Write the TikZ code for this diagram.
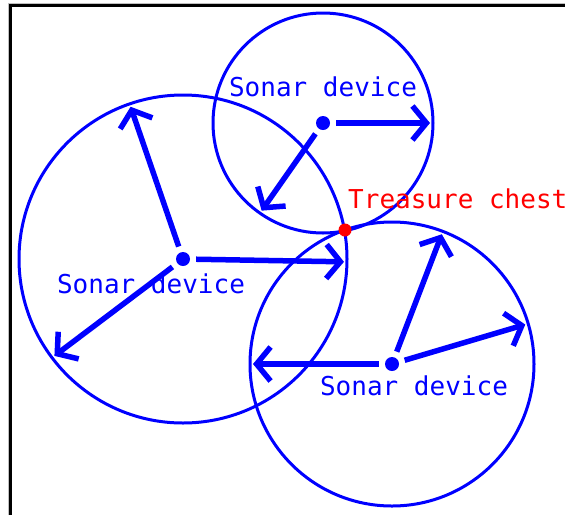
\documentclass[tikz,border=0pt]{standalone}
\usepackage{fontspec}
\setmonofont{DejaVu Sans Mono}
\usepackage{tikz}
\usetikzlibrary{arrows.meta,positioning,calc}
\definecolor{snblue}{HTML}{0000FF}
\definecolor{snred}{HTML}{FF0000}
\tikzset{
  sonar/.style={circle, fill=snblue, inner sep=0pt, minimum size=14pt},
  chestdot/.style={circle, fill=snred, inner sep=0pt, minimum size=13pt},
  ring/.style={draw=snblue, line width=3pt},
  ping/.style={-{Straight Barb[length=14pt,width=34pt]}, draw=snblue, line width=5.5pt, shorten <=6pt},
  lbl/.style={font=\fontsize{26}{26}\selectfont\ttfamily, text=snblue, inner sep=0pt},
  frame/.style={line width=3pt},
}
\begin{document}
\begin{tikzpicture}[x=1pt,y=1pt]
\useasboundingbox (0,0) rectangle (565,-515);
\draw[gray!50, line width=1pt] (8,-515) |- (565,-3.5);
\draw[frame] (10.5,-515) |- (565,-5.5);

\node[sonar] (s1) at (323,-123) {};
\node[sonar] (s2) at (183,-259) {};
\node[sonar] (s3) at (392,-364) {};

\draw[ring] (s1) circle[radius=110pt];
\draw[ring] (s2) circle[radius=164pt];
\draw[ring] (s3) circle[radius=142pt];

\node[chestdot] (chest) at (345,-230) {};

\node[lbl, above=19pt of s1] (l1) {Sonar device};
\node[lbl, below=7pt of s2, xshift=-32pt] (l2) {Sonar device};
\node[lbl, below=4pt of s3, xshift=22pt] (l3) {Sonar device};
\node[lbl, text=snred, above=14pt of chest, anchor=south west, xshift=3pt] (lc) {Treasure chest};

\foreach \s/\r/\a/\n in {s1/107/0/1, s1/107/235/2, s2/161/109/1, s2/161/-1/2, s2/161/217/3,
                         s3/139/69/1, s3/139/16.5/2, s3/139/180/3} {
  \coordinate (\s e\n) at ($(\s)+(\a:\r)$);
  \draw[ping] (\s) -- (\s e\n);
}
\end{tikzpicture}
\end{document}
